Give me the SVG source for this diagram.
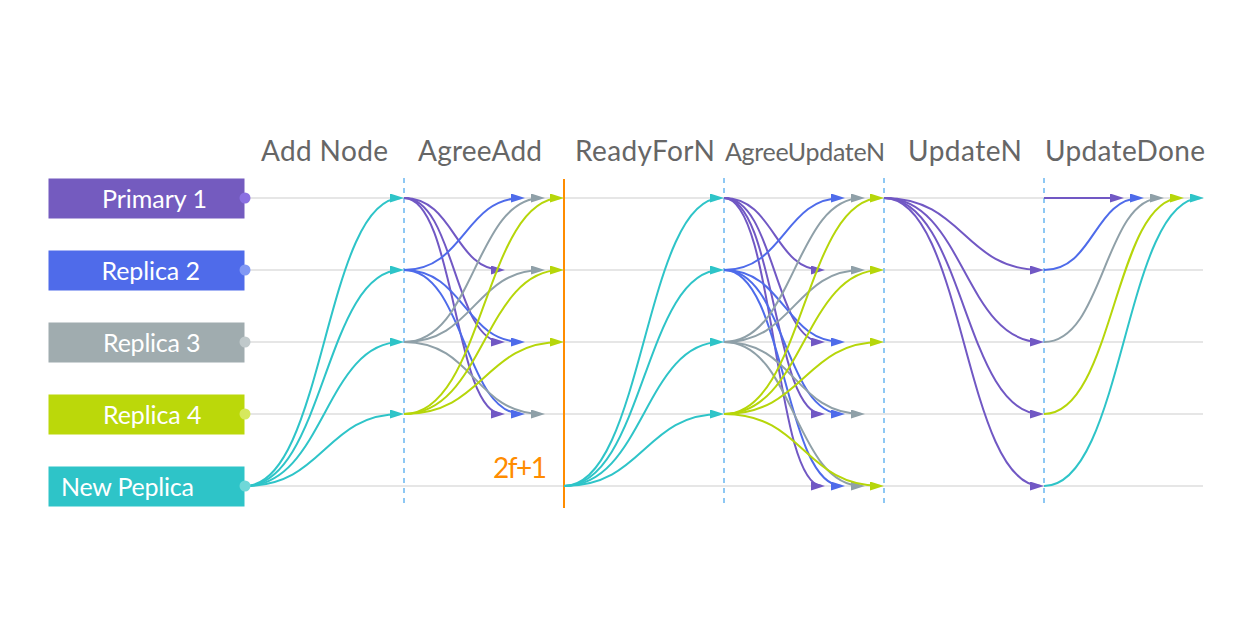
<svg xmlns="http://www.w3.org/2000/svg" width="1256" height="640" viewBox="0 0 1256 640">
<style>
.hdr{font-family:Lato,"Open Sans",sans-serif;font-size:28px;fill:#666666}
.lbl{font-family:Lato,"Open Sans",sans-serif;font-size:25px;fill:#ffffff}
.row{stroke:#e6e6e6;stroke-width:2;fill:none}
.guide{stroke:#8ec8f4;stroke-width:2;stroke-dasharray:5 5;fill:none}
.c{fill:none;stroke-width:2}
.pu{stroke:#7158c4;marker-end:url(#mPu)}
.bl{stroke:#4e6bea;marker-end:url(#mBl)}
.gr{stroke:#8fa0a8;marker-end:url(#mGr)}
.ye{stroke:#b6d60a;marker-end:url(#mYe)}
.cy{stroke:#2ec4c8;marker-end:url(#mCy)}
</style>
<defs>
<marker id="mPu" markerUnits="userSpaceOnUse" markerWidth="14" markerHeight="9" refX="11" refY="4.5" orient="auto"><path d="M0,0 L14,4.5 L0,9 z" fill="#7158c4"/></marker>
<marker id="mBl" markerUnits="userSpaceOnUse" markerWidth="14" markerHeight="9" refX="11" refY="4.5" orient="auto"><path d="M0,0 L14,4.5 L0,9 z" fill="#4e6bea"/></marker>
<marker id="mGr" markerUnits="userSpaceOnUse" markerWidth="14" markerHeight="9" refX="11" refY="4.5" orient="auto"><path d="M0,0 L14,4.5 L0,9 z" fill="#8fa0a8"/></marker>
<marker id="mYe" markerUnits="userSpaceOnUse" markerWidth="14" markerHeight="9" refX="11" refY="4.5" orient="auto"><path d="M0,0 L14,4.5 L0,9 z" fill="#b6d60a"/></marker>
<marker id="mCy" markerUnits="userSpaceOnUse" markerWidth="14" markerHeight="9" refX="11" refY="4.5" orient="auto"><path d="M0,0 L14,4.5 L0,9 z" fill="#2ec4c8"/></marker>
</defs>
<rect width="1256" height="640" fill="#ffffff"/>
<g id="rows">
<line class="row" x1="245" y1="198" x2="1203" y2="198"/>
<line class="row" x1="245" y1="270" x2="1203" y2="270"/>
<line class="row" x1="245" y1="342" x2="1203" y2="342"/>
<line class="row" x1="245" y1="414" x2="1203" y2="414"/>
<line class="row" x1="245" y1="486" x2="1203" y2="486"/>
</g>
<g id="guides">
<line class="guide" x1="404" y1="178" x2="404" y2="508"/>
<line class="guide" x1="724" y1="178" x2="724" y2="508"/>
<line class="guide" x1="884" y1="178" x2="884" y2="508"/>
<line class="guide" x1="1044" y1="178" x2="1044" y2="508"/>
<line x1="564" y1="179" x2="564" y2="508" stroke="#ff8c00" stroke-width="2"/>
</g>
<g id="headers">
<text class="hdr" x="261" y="161" textLength="127">Add Node</text>
<text class="hdr" x="418" y="161" textLength="124">AgreeAdd</text>
<text class="hdr" x="575" y="161" textLength="140">ReadyForN</text>
<text class="hdr" x="725" y="161" textLength="160" style="font-size:25px">AgreeUpdateN</text>
<text class="hdr" x="908" y="161" textLength="114">UpdateN</text>
<text class="hdr" x="1045" y="161" textLength="160">UpdateDone</text>
<text x="493" y="478" textLength="54" style="font-family:Lato,'Open Sans',sans-serif;font-size:28px;fill:#ff8c00">2f+1</text>
</g>
<g id="connectors">
<path class="c cy" d="M245,486 C324.5,486 324.5,198 401,198"/>
<path class="c cy" d="M245,486 C324.5,486 324.5,270 401,270"/>
<path class="c cy" d="M245,486 C324.5,486 324.5,342 401,342"/>
<path class="c cy" d="M245,486 C324.5,486 324.5,414 401,414"/>
<path class="c pu" d="M404,198 C454.5,198 454.5,270 502,270"/>
<path class="c pu" d="M404,198 C454.5,198 454.5,342 502,342"/>
<path class="c pu" d="M404,198 C454.5,198 454.5,414 502,414"/>
<path class="c bl" d="M404,270 C464.5,270 464.5,198 522,198"/>
<path class="c bl" d="M404,270 C464.5,270 464.5,342 522,342"/>
<path class="c bl" d="M404,270 C464.5,270 464.5,414 522,414"/>
<path class="c gr" d="M404,342 C474.5,342 474.5,198 542,198"/>
<path class="c gr" d="M404,342 C474.5,342 474.5,270 542,270"/>
<path class="c gr" d="M404,342 C474.5,342 474.5,414 542,414"/>
<path class="c ye" d="M404,414 C484,414 484,198 561,198"/>
<path class="c ye" d="M404,414 C484,414 484,270 561,270"/>
<path class="c ye" d="M404,414 C484,414 484,342 561,342"/>
<path class="c cy" d="M564,486 C644,486 644,198 721,198"/>
<path class="c cy" d="M564,486 C644,486 644,270 721,270"/>
<path class="c cy" d="M564,486 C644,486 644,342 721,342"/>
<path class="c cy" d="M564,486 C644,486 644,414 721,414"/>
<path class="c pu" d="M724,198 C774.5,198 774.5,270 822,270"/>
<path class="c pu" d="M724,198 C774.5,198 774.5,342 822,342"/>
<path class="c pu" d="M724,198 C774.5,198 774.5,414 822,414"/>
<path class="c pu" d="M724,198 C774.5,198 774.5,486 822,486"/>
<path class="c bl" d="M724,270 C784.5,270 784.5,198 842,198"/>
<path class="c bl" d="M724,270 C784.5,270 784.5,342 842,342"/>
<path class="c bl" d="M724,270 C784.5,270 784.5,414 842,414"/>
<path class="c bl" d="M724,270 C784.5,270 784.5,486 842,486"/>
<path class="c gr" d="M724,342 C794.5,342 794.5,198 862,198"/>
<path class="c gr" d="M724,342 C794.5,342 794.5,270 862,270"/>
<path class="c gr" d="M724,342 C794.5,342 794.5,414 862,414"/>
<path class="c gr" d="M724,342 C794.5,342 794.5,486 862,486"/>
<path class="c ye" d="M724,414 C804,414 804,198 881,198"/>
<path class="c ye" d="M724,414 C804,414 804,270 881,270"/>
<path class="c ye" d="M724,414 C804,414 804,342 881,342"/>
<path class="c ye" d="M724,414 C804,414 804,486 881,486"/>
<path class="c pu" d="M884,198 C964,198 964,270 1041,270"/>
<path class="c pu" d="M884,198 C964,198 964,342 1041,342"/>
<path class="c pu" d="M884,198 C964,198 964,414 1041,414"/>
<path class="c pu" d="M884,198 C964,198 964,486 1041,486"/>
<path class="c pu" d="M1044,198 L1121,198"/>
<path class="c bl" d="M1044,270 C1094,270 1094,198 1141,198"/>
<path class="c gr" d="M1044,342 C1104,342 1104,198 1161,198"/>
<path class="c ye" d="M1044,414 C1114,414 1114,198 1181,198"/>
<path class="c cy" d="M1044,486 C1124,486 1124,198 1201,198"/>
</g>
<g id="primary1">
<rect x="48.5" y="178.5" width="196" height="40" fill="#745bbf"/>
<text class="lbl" x="102" y="208" textLength="105">Primary 1</text>
<circle cx="245" cy="198" r="5.5" fill="#8b70e2"/>
</g>
<g id="replica2">
<rect x="48.5" y="250.5" width="196" height="40" fill="#4f6bea"/>
<text class="lbl" x="101.5" y="280" textLength="98.5">Replica 2</text>
<circle cx="245" cy="270" r="5.5" fill="#8198f4"/>
</g>
<g id="replica3">
<rect x="48.5" y="322.5" width="196" height="40" fill="#a0acaf"/>
<text class="lbl" x="103" y="352" textLength="97.5">Replica 3</text>
<circle cx="245" cy="342" r="5.5" fill="#c0c9cb"/>
</g>
<g id="replica4">
<rect x="48.5" y="394.5" width="196" height="40" fill="#bbd80a"/>
<text class="lbl" x="103" y="424" textLength="98.5">Replica 4</text>
<circle cx="245" cy="414" r="5.5" fill="#d6e85e"/>
</g>
<g id="newreplica">
<rect x="48.5" y="466.5" width="196" height="40" fill="#2ec4c8"/>
<text class="lbl" x="61" y="496" textLength="133">New Peplica</text>
<circle cx="245" cy="486" r="5.5" fill="#6fd8d8"/>
</g>
</svg>
